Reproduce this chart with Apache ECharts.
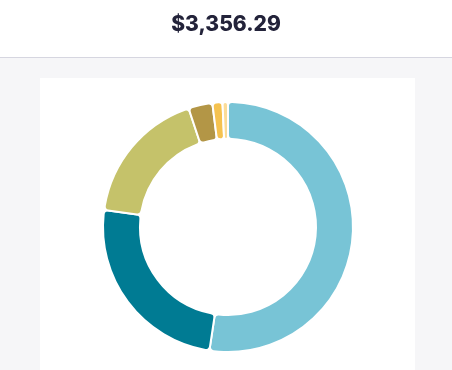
<!DOCTYPE html>
<html>
<head>
<meta charset="utf-8">
<script src="https://cdn.jsdelivr.net/npm/echarts@6/dist/echarts.min.js"></script>
<style>
html,body{margin:0;padding:0;background:#f6f6f8;}
#c{width:452px;height:370px;}
</style>
</head>
<body>
<div id="c"></div>
<script>
const totalLabel = "$3,356.29";
const categories = ["A", "B", "C", "D", "E", "F"];
const values = [1758.0, 832.0, 595.1, 104.0, 43.6, 23.6];
const colors = ["#78c4d6", "#007b93", "#c5c26a", "#b39646", "#f5c24f", "#fbdc98"];

const chart = echarts.init(document.getElementById('c'), null, {renderer: 'canvas'});
chart.setOption({
  backgroundColor: '#f6f6f8',
  animation: false,
  title: {
    text: totalLabel,
    left: 'center',
    top: 9,
    textStyle: {fontFamily: 'Inter', fontWeight: 800, fontSize: 21, color: '#23233a'}
  },
  graphic: [
    {type: 'rect', z: -10, shape: {x: 0, y: 0, width: 452, height: 57}, style: {fill: '#ffffff'}},
    {type: 'line', z: -9, shape: {x1: 0, y1: 57.5, x2: 452, y2: 57.5}, style: {stroke: '#d6d6e0', lineWidth: 1}},
    {type: 'rect', z: -10, shape: {x: 40, y: 78, width: 375, height: 292}, style: {fill: '#ffffff'}}
  ],
  series: [{
    type: 'pie',
    center: [228, 227],
    radius: [88, 125],
    startAngle: 90,
    clockwise: true,
    label: {show: false},
    labelLine: {show: false},
    emphasis: {disabled: true},
    itemStyle: {borderColor: '#ffffff', borderWidth: 2, borderRadius: 4},
    data: categories.map((c, i) => ({name: c, value: values[i], itemStyle: {color: colors[i]}}))
  }]
});
</script>
</body>
</html>
